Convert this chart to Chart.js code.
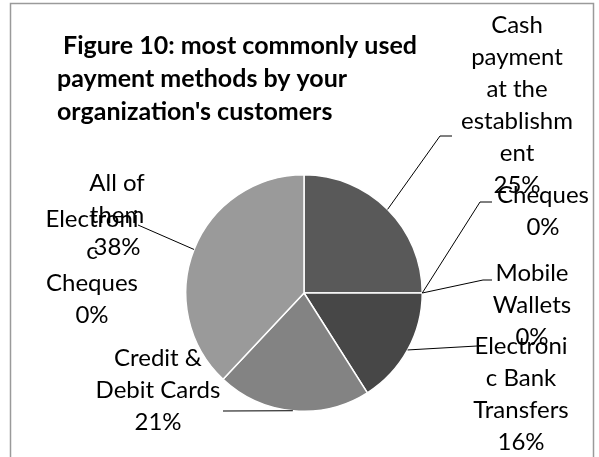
<!DOCTYPE html>
<html>
<head>
<meta charset="utf-8">
<script src="https://cdn.jsdelivr.net/npm/chart.js@4.4.0/dist/chart.umd.min.js"></script>
<style>
  body { margin: 0; background: #fff; }
</style>
</head>
<body>
<canvas id="myCanvas" width="599" height="457"></canvas>
<script>
var categories = ['Cash payment at the establishment', 'Cheques', 'Mobile Wallets',
    'Electronic Bank Transfers', 'Credit & Debit Cards', 'Electronic Cheques', 'All of them'];
var shares = [25, 0, 0, 16, 21, 0, 38];
// label text wrapped the way it shows in the figure
var labelLines = [
    ['Cash', 'payment', 'at the', 'establishm', 'ent'],
    ['Cheques'],
    ['Mobile', 'Wallets'],
    ['Electroni', 'c Bank', 'Transfers'],
    ['Credit &', 'Debit Cards'],
    ['Electroni', 'c', 'Cheques'],
    ['All of', 'them']
];
var titleLines = ['Figure 10: most commonly used', 'payment methods by your', "organization's customers"];

var sliceColors = ['#595959', '#6e6e6e', '#333333', '#474747', '#838383', '#bdbdbd', '#9a9a9a'];

// where each label sits (centre x, first line y) and where its leader line ends
var labelSpots = [[517, 25], [543, 195], [532, 273], [521, 346], [158, 358], [92, 219], [117, 183]];
var leaders = [
    [[440, 136], [452, 136]],
    [[480, 202], [492, 202]],
    [[483, 280], [492, 280]],
    [[477, 346]],
    [[223, 411]],
    null,
    [[138, 225]]
];

var framePlugin = {
    id: 'frame',
    beforeDraw: function (chart) {
        var c = chart.ctx;
        c.save();
        c.fillStyle = '#fff';
        c.fillRect(0, 0, chart.width, chart.height);
        c.strokeStyle = '#9a9a9a';
        c.lineWidth = 1.5;
        c.beginPath();
        c.moveTo(10.5, 460);
        c.lineTo(10.5, 3.5);
        c.lineTo(593.5, 3.5);
        c.lineTo(593.5, 460);
        c.stroke();
        c.restore();
    }
};

var labelPlugin = {
    id: 'pieLabels',
    afterDatasetsDraw: function (chart) {
        var c = chart.ctx;
        var arcs = chart.getDatasetMeta(0).data;
        c.save();
        // leader lines
        c.strokeStyle = '#000';
        c.lineWidth = 1;
        for (var i = 0; i < arcs.length; i++) {
            if (!leaders[i]) continue;
            var a = arcs[i];
            var mid = (a.startAngle + a.endAngle) / 2;
            c.beginPath();
            c.moveTo(a.x + Math.cos(mid) * a.outerRadius, a.y + Math.sin(mid) * a.outerRadius);
            leaders[i].forEach(function (p) { c.lineTo(p[0], p[1]); });
            c.stroke();
        }
        // label texts
        c.fillStyle = '#000';
        c.font = '24px Lato';
        c.textAlign = 'center';
        c.textBaseline = 'middle';
        for (var j = 0; j < arcs.length; j++) {
            var lines = labelLines[j].concat([shares[j] + '%']);
            for (var k = 0; k < lines.length; k++) {
                c.fillText(lines[k], labelSpots[j][0], labelSpots[j][1] + k * 32);
            }
        }
        // title
        c.font = 'bold 25px Lato';
        c.textAlign = 'left';
        c.fillText(titleLines[0], 63, 46);
        c.fillText(titleLines[1], 57, 79);
        c.fillText(titleLines[2], 57, 112);
        c.restore();
    }
};

var chartdata = {
    labels: categories,
    datasets: [
        {
            data: shares,
            backgroundColor: sliceColors,
            borderColor: '#ffffff',
            borderWidth: 1.5
        }
    ]
};

var ctx = document.getElementById('myCanvas');
var pie = new Chart(ctx, {
    type: 'pie',
    data: chartdata,
    options: {
        responsive: false,
        animation: false,
        events: [],
        layout: { padding: { left: 185, right: 176, top: 174, bottom: 45 } },
        plugins: {
            legend: { display: false },
            title: { display: false },
            tooltip: { enabled: false }
        }
    },
    plugins: [framePlugin, labelPlugin]
});
</script>
</body>
</html>
